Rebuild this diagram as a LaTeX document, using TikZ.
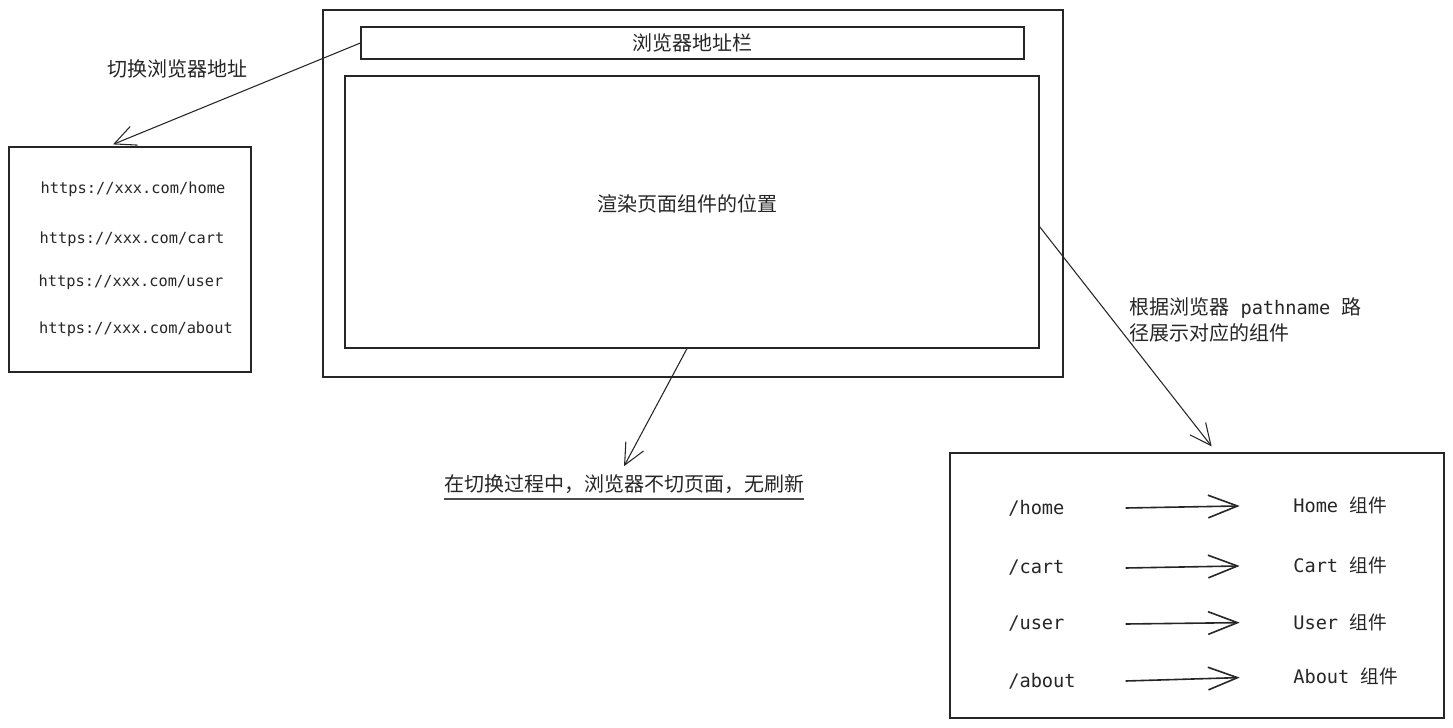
\documentclass[tikz,border=0pt]{standalone}
\usepackage{fontspec}
\setmainfont{Noto Sans CJK SC}
\setmonofont{DejaVu Sans Mono}
\usetikzlibrary{arrows.meta}

\tikzstyle{sketchbox} = [rectangle, draw=black!85, line width=0.9pt, inner sep=0pt]
\tikzstyle{cntext} = [inner sep=0pt, text=black!85, font=\fontsize{15}{19.5}\selectfont]
\tikzstyle{urltext} = [inner sep=0pt, text=black!85, font=\ttfamily\fontsize{11.5}{14}\selectfont]
\tikzstyle{routetext} = [inner sep=0pt, anchor=west, text=black!85, font=\ttfamily\fontsize{14}{17}\selectfont]
\tikzstyle{jump} = [draw=black!85, line width=0.8pt, -{Straight Barb[length=16pt, width=15pt]}]
\tikzstyle{maps} = [draw=black!85, line width=1.2pt, shorten >=40pt, -{Straight Barb[length=22pt, width=17pt]}]

\begin{document}
\begin{tikzpicture}[x=0.75pt, y=-0.75pt]
\useasboundingbox (0,0) rectangle (1453,728);

\node[sketchbox, minimum width=555pt, minimum height=275.25pt] (browser) at (693,193.5) {};
\node[sketchbox, minimum width=497.25pt, minimum height=24pt, cntext] (addrbar) at (692.5,43) {浏览器地址栏};
\node[sketchbox, minimum width=520.5pt, minimum height=204pt] (viewport) at (692,212) {};
\node[cntext] (viewtext) at (687,204) {渲染页面组件的位置};

\node[sketchbox, minimum width=181.5pt, minimum height=168.75pt] (urllist) at (130,259.5) {};
\node[urltext] (urlhome) at (133,189) {https://xxx.com/home};
\node[urltext] (urlcart) at (132,239) {https://xxx.com/cart};
\node[urltext] (urluser) at (131,282) {https://xxx.com/user};
\node[urltext] (urlabout) at (136,329) {https://xxx.com/about};
\node[cntext] (switchtext) at (177,69) {切换浏览器地址};

\node[cntext] (note) at (624,484) {在切换过程中，浏览器不切页面，无刷新};
\draw[draw=black!70, line width=1.8pt] ([yshift=-4pt]note.south west) -- ([yshift=-4pt]note.south east);

\node[cntext, anchor=north west, align=left] (pathtext) at (1129,297)
    {根据浏览器{\ttfamily\fontsize{14}{17}\selectfont\ pathname\ }路\\径展示对应的组件};

\node[sketchbox, minimum width=370.5pt, minimum height=198.75pt] (routes) at (1197,585.5) {};
\node[routetext, text width=87.75pt] (pathhome) at (1008,508) {/home};
\node[routetext, text width=87.75pt] (pathcart) at (1008,568) {/cart};
\node[routetext, text width=87.75pt] (pathuser) at (1008,624) {/user};
\node[routetext, text width=87.75pt] (pathabout) at (1008,681) {/about};
\node[routetext] (comphome) at (1293,505) {Home\ {\rmfamily 组件}};
\node[routetext] (compcart) at (1293,565) {Cart\ {\rmfamily 组件}};
\node[routetext] (compuser) at (1293,622) {User\ {\rmfamily 组件}};
\node[routetext] (compabout) at (1293,676) {About\ {\rmfamily 组件}};

\draw[jump] (addrbar.west) -- ([xshift=-12.75pt, yshift=1.5pt]urllist.north);
\draw[jump] ([xshift=-3.75pt]viewport.south) -- ([yshift=6pt]note.north);
\draw[jump] ([yshift=-11pt]viewport.east) -- ([xshift=11pt, yshift=4.5pt]routes.north);

\draw[maps] (pathhome.east) -- (comphome.west);
\draw[maps] (pathcart.east) -- (compcart.west);
\draw[maps] (pathuser.east) -- (compuser.west);
\draw[maps] (pathabout.east) -- (compabout.west);
\end{tikzpicture}
\end{document}
